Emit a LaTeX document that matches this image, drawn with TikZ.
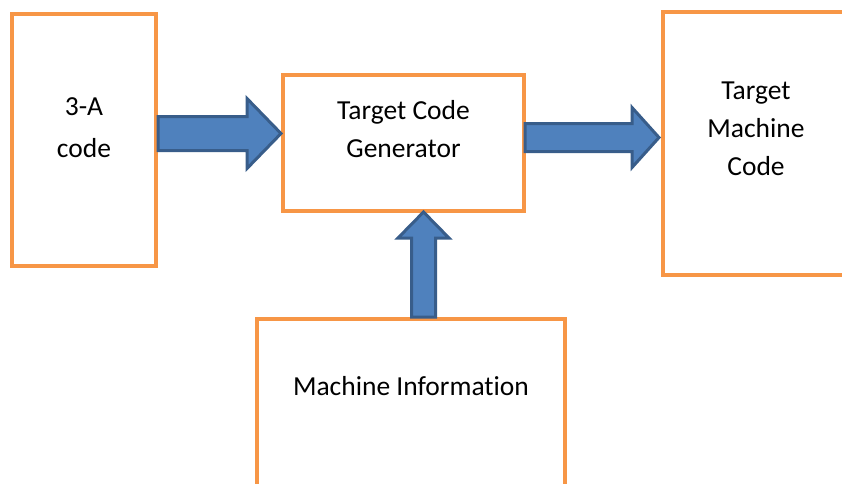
\documentclass[tikz,border=0pt]{standalone}
\usepackage{fontspec}
\setmainfont{Carlito}[Ligatures=NoCommon]
\usepackage{tikz}
\usetikzlibrary{calc}
\usepackage{xcolor}
\definecolor{boxorange}{HTML}{F79646}
\definecolor{arrowblue}{HTML}{4F81BD}
\definecolor{arrowedge}{HTML}{385D8A}

\begin{document}
\begin{tikzpicture}[
    x=1pt, y=-1pt,
    box/.style={draw=boxorange, line width=4pt, fill=white, rectangle, inner sep=0pt},
    boxtext/.style={align=center, inner sep=0pt, anchor=base, font=\fontsize{27.5}{38}\selectfont},
    blockarrow/.style={fill=arrowblue, draw=arrowedge, line width=3pt, line join=miter}
]
    % Canvas and clipping (right and bottom boxes run off the edge)
    \useasboundingbox (0,0) rectangle (842,483);
    \clip (0,0) rectangle (842,483);

    % Boxes
    \node[box, minimum width=144, minimum height=252] (code) at (84,140) {};
    \node[box, minimum width=241, minimum height=136] (gen) at (403.5,143) {};
    \node[box, minimum width=186, minimum height=263] (tmc) at (756,143.5) {};
    \node[box, minimum width=308, minimum height=181] (mach) at (411,409.5) {};

    % Box texts (base = last line)
    \node[boxtext, font=\fontsize{27.5}{42}\selectfont] (codetxt) at ($(code.north)+(0,145)$) {3-A\\code};
    \node[boxtext] (gentxt) at ($(gen.north)+(0,84)$) {Target Code\\Generator};
    \node[boxtext] (tmctxt) at ($(tmc.north)+(0,165)$) {Target\\Machine\\Code};
    \node[boxtext] (machtxt) at ($(mach.north)+(0,78)$) {Machine Information};

    % Arrow ends
    \coordinate (a1) at (code.east |- 0,133.5);
    \coordinate (b1) at (gen.west |- 0,133.5);
    \coordinate (a2) at ($(gen.east |- 0,137.5)+(-1,0)$);
    \coordinate (b2) at ($(tmc.west |- 0,137.5)+(-2,0)$);
    \coordinate (a3) at (mach.north -| 423.5,0);
    \coordinate (b3) at ($(gen.south -| 423.5,0)+(0,-1)$);

    % 3-A code -> generator
    \draw[blockarrow] ($(a1)+(0,-17)$) -- ($(b1)+(-34,-17)$) -- ($(b1)+(-34,-35)$) -- (b1)
        -- ($(b1)+(-34,35)$) -- ($(b1)+(-34,17)$) -- ($(a1)+(0,17)$) -- cycle;

    % generator -> target machine code
    \draw[blockarrow] ($(a2)+(0,-14)$) -- ($(b2)+(-27,-14)$) -- ($(b2)+(-27,-30)$) -- (b2)
        -- ($(b2)+(-27,30)$) -- ($(b2)+(-27,14)$) -- ($(a2)+(0,14)$) -- cycle;

    % machine information -> generator
    \draw[blockarrow] ($(a3)+(-12,0)$) -- ($(b3)+(-12,26)$) -- ($(b3)+(-25.5,26)$) -- (b3)
        -- ($(b3)+(25.5,26)$) -- ($(b3)+(12,26)$) -- ($(a3)+(12,0)$) -- cycle;
\end{tikzpicture}
\end{document}
